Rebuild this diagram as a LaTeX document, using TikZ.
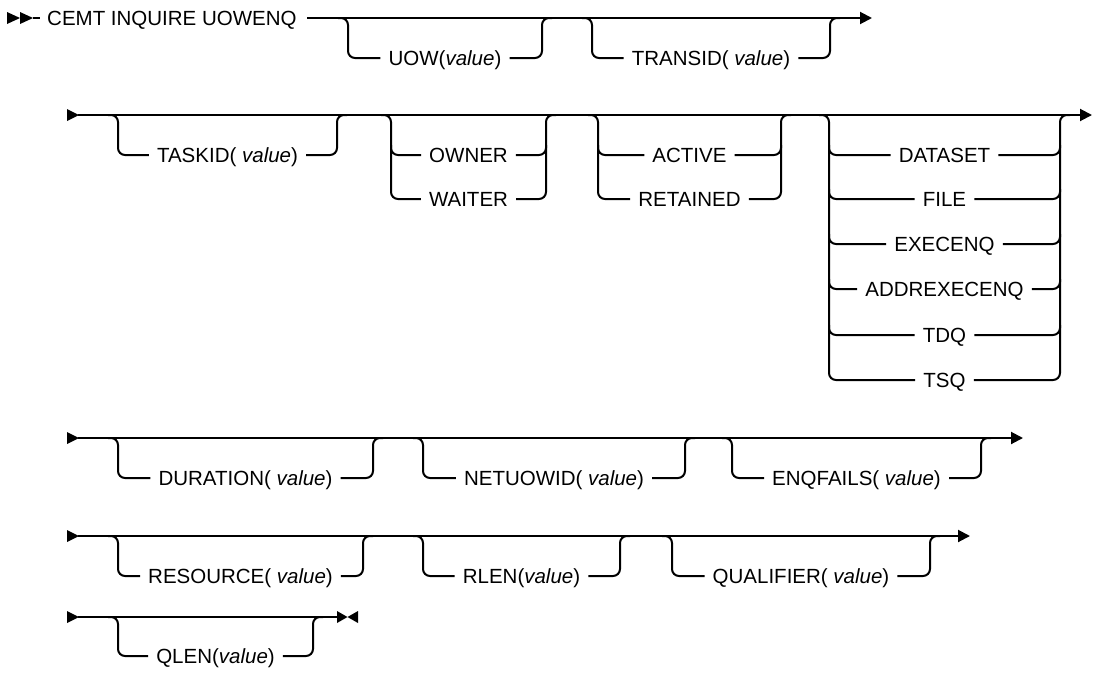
\documentclass[tikz,border=0pt]{standalone}
\usepackage{fontspec}
\setmainfont{Liberation Sans}
\usetikzlibrary{arrows.meta}
\newcommand\optitem[6]{% name, xL, xR, y0, dy, label
  \node[lbl] (#1) at ({(#2+#3)/2},{#4+#5}) {#6};
  \draw[brk] ({#2-10},#4) -- (#2,#4) -- (#2,{#4+#5}) -- (#1.west);
  \draw[brk] (#1.east) -- (#3,{#4+#5}) -- (#3,#4) -- ({#3+10},#4);
}
\newcommand\startmark[2]{% x, y : right pointing triangle
  \fill (#1,{#2-6}) -- ({#1+12},#2) -- (#1,{#2+6}) -- cycle;
}
\begin{document}
\begin{tikzpicture}[x=1pt,y=-1pt,
  every node/.style={font=\fontsize{20.5}{24}\selectfont, inner sep=0pt, text height=14.6pt, text depth=0pt},
  lbl/.style={inner xsep=8pt, inner ysep=0pt},
  rail/.style={line width=2pt},
  brk/.style={line width=2pt, rounded corners=7pt},
  endarrow/.style={-{Triangle[length=12pt,width=12pt]}},
]
\fill[white] (0,0) rectangle (1093,683);
\useasboundingbox (0,0) rectangle (1093,683);

% ---------- row 1 ----------
\fill (7,12) -- (20,18) -- (7,24) -- cycle;
\fill (20,12) -- (33,18) -- (20,24) -- cycle;
\coordinate (r1s) at (33,18);
\coordinate (r1t) at (40,18);
\draw[rail] (r1s) -- (r1t);
\node[anchor=west] (cmd) at (47,18) {CEMT INQUIRE UOWENQ};
\coordinate (r1a) at (307,18);
\coordinate (r1e) at (872,18);
\draw[rail,endarrow] (r1a) -- (r1e);
\optitem{uow}{348}{542}{18}{40}{UOW(\textit{value})}
\optitem{transid}{592}{830}{18}{40}{TRANSID( \textit{value})}

% ---------- row 2 ----------
\startmark{67}{115}
\coordinate (r2s) at (78,115);
\coordinate (r2e) at (1092,115);
\draw[rail,endarrow] (r2s) -- (r2e);
\optitem{taskid}{118}{337}{115}{40}{TASKID( \textit{value})}

\node[lbl] (owner) at (468.5,155) {OWNER};
\node[lbl] (waiter) at (468.5,199) {WAITER};
\draw[brk] (381,115) -- (391,115) -- (391,199) -- (waiter.west);
\draw[brk] (391,145) -- (391,155) -- (owner.west);
\draw[brk] (waiter.east) -- (546,199) -- (546,115) -- (556,115);
\draw[brk] (owner.east) -- (546,155) -- (546,145);

\node[lbl] (active) at (689.5,155) {ACTIVE};
\node[lbl] (retained) at (689.5,199) {RETAINED};
\draw[brk] (588,115) -- (598,115) -- (598,199) -- (retained.west);
\draw[brk] (598,145) -- (598,155) -- (active.west);
\draw[brk] (retained.east) -- (781,199) -- (781,115) -- (791,115);
\draw[brk] (active.east) -- (781,155) -- (781,145);

\node[lbl] (dataset) at (944.5,155) {DATASET};
\node[lbl] (file) at (944.5,199) {FILE};
\node[lbl] (execenq) at (944.5,244) {EXECENQ};
\node[lbl] (addrexecenq) at (944.5,289) {ADDREXECENQ};
\node[lbl] (tdq) at (944.5,335) {TDQ};
\node[lbl] (tsq) at (944.5,380) {TSQ};
\draw[brk] (819,115) -- (829,115) -- (829,380) -- (tsq.west);
\draw[brk] (tsq.east) -- (1060,380) -- (1060,115) -- (1070,115);
\foreach \n/\yy in {dataset/155,file/199,execenq/244,addrexecenq/289,tdq/335}{
  \draw[brk] (829,\yy-10) -- (829,\yy) -- (\n.west);
  \draw[brk] (\n.east) -- (1060,\yy) -- (1060,\yy-10);
}

% ---------- row 3 ----------
\startmark{67}{438}
\coordinate (r3s) at (78,438);
\coordinate (r3e) at (1023,438);
\draw[rail,endarrow] (r3s) -- (r3e);
\optitem{duration}{118}{373}{438}{40}{DURATION( \textit{value})}
\optitem{netuowid}{423}{685}{438}{40}{NETUOWID( \textit{value})}
\optitem{enqfails}{732}{981}{438}{40}{ENQFAILS( \textit{value})}

% ---------- row 4 ----------
\startmark{67}{536}
\coordinate (r4s) at (78,536);
\coordinate (r4e) at (970,536);
\draw[rail,endarrow] (r4s) -- (r4e);
\optitem{resource}{118}{363}{536}{40}{RESOURCE( \textit{value})}
\optitem{rlen}{423}{620}{536}{40}{RLEN(\textit{value})}
\optitem{qualifier}{672}{930}{536}{40}{QUALIFIER( \textit{value})}

% ---------- row 5 ----------
\startmark{67}{617}
\coordinate (r5s) at (78,617);
\coordinate (r5e) at (337,617);
\draw[rail] (r5s) -- (r5e);
\optitem{qlen}{118}{313}{617}{39}{QLEN(\textit{value})}
\fill (337,611) -- (347.5,617) -- (337,623) -- cycle;
\fill (358,611) -- (347.5,617) -- (358,623) -- cycle;
\end{tikzpicture}
\end{document}
